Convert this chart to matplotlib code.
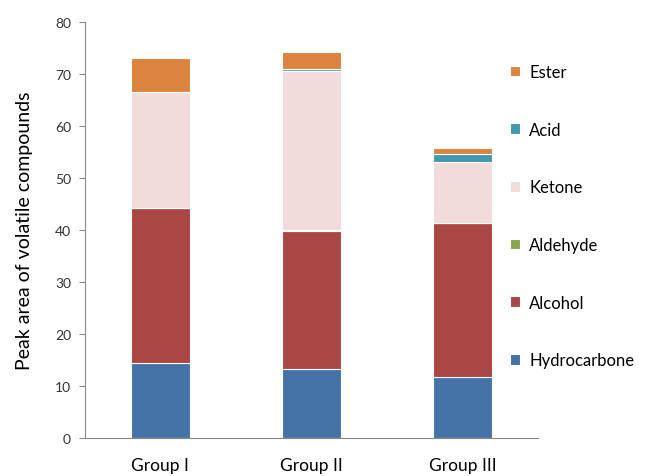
import numpy as np
import matplotlib.pyplot as plt

groups = ["Group I", "Group II", "Group III"]
hydrocarbone = [14.4, 13.2, 11.7]
alcohol = [29.8, 26.5, 29.6]
aldehyde = [0.0, 0.3, 0.0]
ketone = [22.3, 30.5, 11.8]
acid = [0.0, 0.4, 1.5]
ester = [6.5, 3.4, 1.2]

series = [
    ("Hydrocarbone", hydrocarbone, "#4572A7"),
    ("Alcohol", alcohol, "#AA4643"),
    ("Aldehyde", aldehyde, "#89A54E"),
    ("Ketone", ketone, "#F2DCDB"),
    ("Acid", acid, "#4198AF"),
    ("Ester", ester, "#DB843D"),
]

plt.rcParams['font.family'] = ['Lato', 'DejaVu Sans']

fig = plt.figure(figsize=(6.53, 4.77), dpi=100)
ax = fig.add_axes([0.130, 0.080, 0.694, 0.872])

x = np.arange(len(groups))
bottom = np.zeros(len(groups))
handles = []
for name, vals, col in series:
    vals = np.array(vals)
    b = ax.bar(x, vals, 0.39, bottom=bottom, color=col, edgecolor="white",
               linewidth=0.8, label=name)
    handles.append(b)
    bottom += vals

ax.set_xlim(-0.5, 2.5)
ax.set_ylim(0, 80)
ax.set_yticks(range(0, 81, 10))
ax.set_xticks(x)
ax.set_xticklabels(groups, fontsize=12.5)
ax.tick_params(axis="y", labelsize=10, colors="#333333", length=4, color="#888888", pad=6)
ax.tick_params(axis="x", length=0, pad=14)
ax.set_ylabel("Peak area of volatile compounds", fontsize=14, labelpad=16)

for s in ["top", "right"]:
    ax.spines[s].set_visible(False)
for s in ["left", "bottom"]:
    ax.spines[s].set_color("#888888")

leg = ax.legend(handles[::-1], [s[0] for s in series][::-1],
                loc="upper left", bbox_to_anchor=(0.905, 0.935), frameon=False,
                fontsize=12, handlelength=0.6, handleheight=0.6,
                handletextpad=0.55, labelspacing=2.5)

fig.savefig("out.png", dpi=100)
